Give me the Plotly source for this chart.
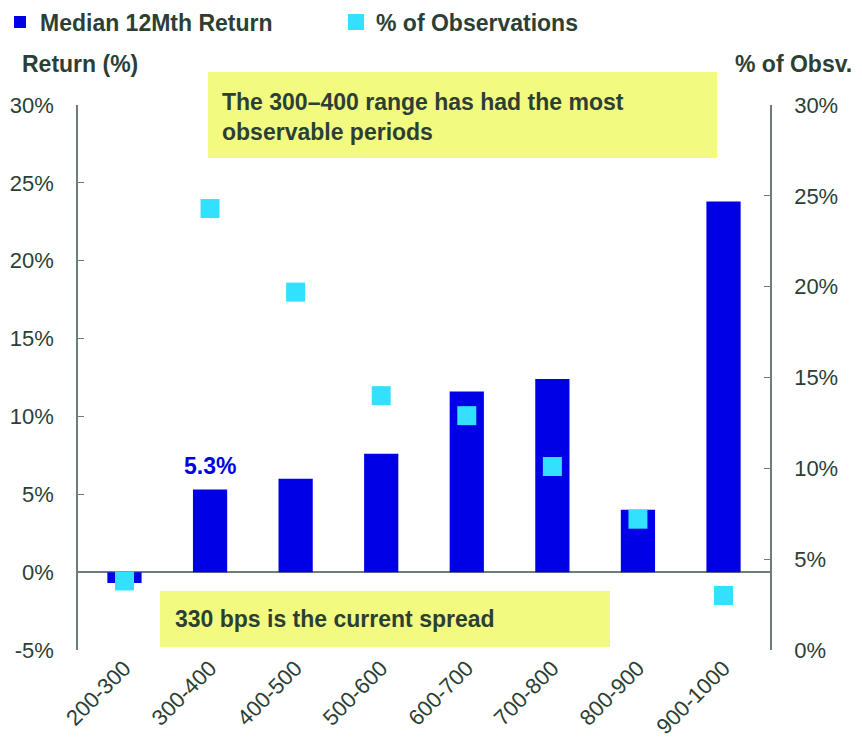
import plotly.graph_objects as go

categories = ["200-300", "300-400", "400-500", "500-600", "600-700", "700-800", "800-900", "900-1000"]
median_return = [-0.7, 5.3, 6.0, 7.6, 11.6, 12.4, 4.0, 23.8]
pct_obs = [3.8, 24.3, 19.7, 14.0, 12.9, 10.1, 7.2, 3.0]
left_ticks = [-5, 0, 5, 10, 15, 20, 25, 30]
right_ticks = [0, 5, 10, 15, 20, 25, 30]

TXT = "#2B3F35"
AXC = "#6E7D76"
FONT = "Liberation Sans, Arial, sans-serif"
OFF = 8  # default page margin around the figure
W, H = 862 - 2 * OFF, 749 - 2 * OFF
L, T = 78 - OFF, 105 - OFF
R = W - (770 - OFF)
B = H - (650 - OFF)
PW, PH = W - L - R, H - T - B


def px(x):  # screen x -> paper x
    return (x - OFF - L) / PW


def py(y):  # screen y -> paper y
    return (H - B - (y - OFF)) / PH


fig = go.Figure()
fig.add_trace(go.Bar(
    x=categories, y=median_return, name="<b>Median 12Mth Return</b>",
    marker=dict(color="#0000E6", line=dict(width=0)), width=0.4, yaxis="y",
))
fig.add_trace(go.Scatter(
    x=categories, y=pct_obs, name="<b>% of Observations</b>", mode="markers",
    marker=dict(symbol="square", size=19, color="#33E0FF", line=dict(width=0)),
    yaxis="y2",
))

fig.add_annotation(x=categories[1], y=median_return[1], xref="x", yref="y",
                   text="<b>5.3%</b>", showarrow=False, yanchor="bottom", yshift=9,
                   font=dict(size=23, color="#0000E6", family=FONT))

# axis titles
fig.add_annotation(x=px(20), y=py(64), xref="paper", yref="paper", xanchor="left", yanchor="middle",
                   text="<b>Return (%)</b>", showarrow=False, font=dict(size=23, color=TXT, family=FONT))
fig.add_annotation(x=px(854), y=py(64), xref="paper", yref="paper", xanchor="right", yanchor="middle",
                   text="<b>% of Obsv.</b>", showarrow=False, font=dict(size=23, color=TXT, family=FONT))

# callout boxes
fig.add_shape(type="rect", xref="paper", yref="paper", x0=px(208), x1=px(717),
              y0=py(158), y1=py(72), fillcolor="#F2FA80", line=dict(width=0), layer="below")
fig.add_annotation(x=px(220), y=py(117), xref="paper", yref="paper", xanchor="left", yanchor="middle",
                   align="left", text="<b>The 300–400 range has had the most<br>observable periods</b>",
                   showarrow=False, font=dict(size=23, color=TXT, family=FONT))
fig.add_shape(type="rect", xref="paper", yref="paper", x0=px(160), x1=px(610),
              y0=py(647), y1=py(591), fillcolor="#F2FA80", line=dict(width=0), layer="below")
fig.add_annotation(x=px(173), y=py(619), xref="paper", yref="paper", xanchor="left", yanchor="middle",
                   text="<b>330 bps is the current spread</b>", showarrow=False,
                   font=dict(size=23, color=TXT, family=FONT))

fig.update_layout(
    width=W, height=H,
    margin=dict(l=L, r=R, t=T, b=B, autoexpand=False),
    plot_bgcolor="white", paper_bgcolor="white",
    font=dict(family=FONT, color=TXT, size=22),
    showlegend=True,
    legend=dict(orientation="h", xref="paper", yref="paper",
                x=px(0), y=py(22), xanchor="left", yanchor="middle",
                font=dict(size=23, color=TXT, family=FONT), entrywidth=291, entrywidthmode="pixels",
                itemwidth=30, bgcolor="rgba(0,0,0,0)"),
    xaxis=dict(type="category", showline=False, ticks="", tickangle=-45, automargin=False,
               tickfont=dict(size=22, color=TXT), showgrid=False),
    yaxis=dict(range=[-5, 30], tickvals=left_ticks, ticktext=[f"{v}%" for v in left_ticks],
               showgrid=False, showline=True, linecolor=AXC, linewidth=1.5, ticks="inside",
               ticklen=6, tickcolor=AXC, zeroline=True, zerolinecolor=AXC, zerolinewidth=1.5,
               tickfont=dict(size=22, color=TXT), ticklabelstandoff=18, automargin=False),
    yaxis2=dict(range=[0, 30], tickvals=right_ticks, ticktext=[f"{v}%" for v in right_ticks],
                overlaying="y", side="right", showgrid=False, showline=True, linecolor=AXC,
                linewidth=1.5, ticks="inside", ticklen=6, tickcolor=AXC, zeroline=False,
                tickfont=dict(size=22, color=TXT), ticklabelstandoff=18, automargin=False),
)

fig.write_html("out.html")
